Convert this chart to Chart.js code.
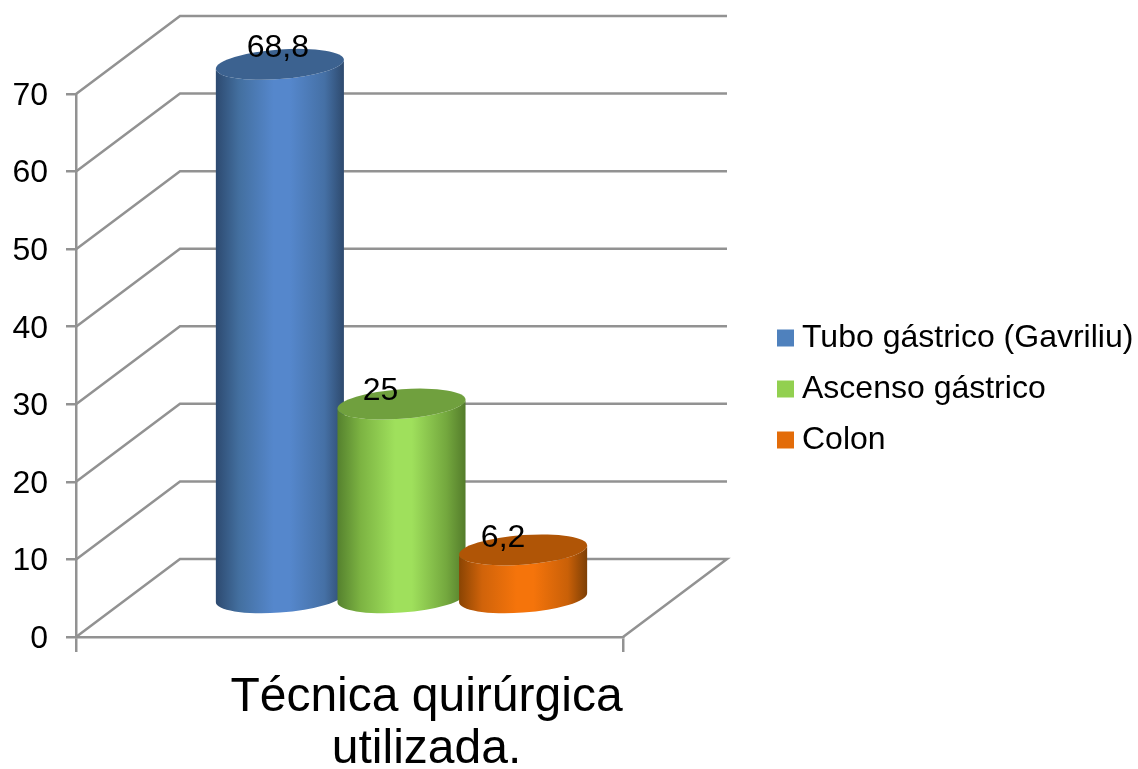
<!DOCTYPE html>
<html>
<head>
  <meta charset="utf-8">
  <title>Técnica quirúrgica utilizada</title>
  <script src="https://cdn.jsdelivr.net/npm/chart.js"></script>
  <style>
    body { margin: 0; background: white; }
    canvas { display: block; }
  </style>
</head>
<body>
<canvas id="tecnicaChart" width="1138" height="769"></canvas>

<script>
const categories = [['Técnica quirúrgica', 'utilizada.']];
const seriesNames = ['Tubo gástrico (Gavriliu)', 'Ascenso gástrico', 'Colon'];
const seriesValues = [68.8, 25, 6.2];
const yTicks = [0, 10, 20, 30, 40, 50, 60, 70];

const legendColors = ['#4f81bd', '#92d050', '#e36c09'];
const capColors = ['#3c6290', '#70a03e', '#b05506'];
const sideStops = [
  ['#2d4a70', '#436f9f', '#5587cc', '#5587cc', '#4570a5', '#2e4a6e'],
  ['#55812e', '#7cb342', '#9fe05c', '#9fe05c', '#74a83e', '#547c2b'],
  ['#8a4403', '#d0630a', '#f5740b', '#f5740b', '#c96008', '#7d3f05']
];
const stopAt = [0, 0.18, 0.45, 0.58, 0.85, 1];

const gridColor = '#929292';
const fontFamily = 'Liberation Sans, Arial, sans-serif';
const wallDepth = { x: 104, y: 78 };
const tilt = { shear: -4.5, minor: 14.8 };
// data labels sit a little off the centre of each cap
const labelShift = [[-2, -16], [-21, -13], [-20, -12]];

function ellipsePath(ctx, cx, cy, a, start, end, ccw) {
  ctx.save();
  ctx.transform(a, tilt.shear, 0, tilt.minor, cx, cy);
  ctx.arc(0, 0, 1, start, end, ccw);
  ctx.restore();
}

const scene3d = {
  id: 'scene3d',
  afterLayout(chart) {
    // legend lives to the right of the floor, outside the plot
    const legend = chart.legend;
    legend.left = 766;
    legend.right = 1138;
    legend.top = 303;
    legend.bottom = 484;
  },
  beforeDatasetsDraw(chart) {
    const ctx = chart.ctx;
    const x = chart.scales.x;
    const y = chart.scales.y;
    const dx = wallDepth.x;
    const dy = wallDepth.y;

    // side wall, back wall and floor
    ctx.save();
    ctx.strokeStyle = gridColor;
    ctx.lineWidth = 2.5;
    ctx.lineJoin = 'miter';
    yTicks.forEach(t => {
      const py = y.getPixelForValue(t);
      ctx.beginPath();
      ctx.moveTo(x.left, py);
      ctx.lineTo(x.left + dx, py - dy);
      ctx.lineTo(x.right + dx, py - dy);
      if (t === 0) ctx.lineTo(x.right, py);
      ctx.stroke();
    });
    ctx.restore();

    // cylinders, first series at the back of the pile
    seriesValues.forEach((v, i) => {
      const bar = chart.getDatasetMeta(i).data[0];
      const a = bar.width / 2;
      const cx = bar.x + dx / 2;
      const topY = bar.y - dy / 2;
      const baseY = bar.base - dy / 2 + 1;

      const side = ctx.createLinearGradient(cx - a, 0, cx + a, 0);
      stopAt.forEach((s, k) => side.addColorStop(s, sideStops[i][k]));
      ctx.fillStyle = side;
      ctx.beginPath();
      ellipsePath(ctx, cx, baseY, a, Math.PI, 0, true);
      ellipsePath(ctx, cx, topY, a, 0, Math.PI, false);
      ctx.closePath();
      ctx.fill();

      ctx.fillStyle = capColors[i];
      ctx.beginPath();
      ellipsePath(ctx, cx, topY, a, 0, Math.PI * 2, false);
      ctx.fill();
    });

    // value labels go on top of every cylinder
    ctx.save();
    ctx.fillStyle = 'black';
    ctx.font = '32px ' + fontFamily;
    ctx.textAlign = 'center';
    ctx.textBaseline = 'middle';
    seriesValues.forEach((v, i) => {
      const bar = chart.getDatasetMeta(i).data[0];
      ctx.fillText(String(v).replace('.', ','),
        bar.x + dx / 2 + labelShift[i][0],
        bar.y - dy / 2 + labelShift[i][1]);
    });
    ctx.restore();

    return false;
  }
};

new Chart(document.getElementById('tecnicaChart'), {
  type: 'bar',
  data: {
    labels: categories,
    datasets: seriesNames.map((name, i) => ({
      label: name,
      data: [seriesValues[i]],
      backgroundColor: legendColors[i],
      borderWidth: 0,
      barPercentage: 1.053,
      categoryPercentage: 0.667
    }))
  },
  options: {
    responsive: false,
    animation: false,
    layout: { padding: { top: 94, right: 515, left: 0, bottom: 0 } },
    plugins: {
      tooltip: { enabled: false },
      legend: {
        position: 'chartArea',
        align: 'start',
        labels: {
          color: 'black',
          font: { size: 32, family: fontFamily },
          usePointStyle: true,
          pointStyle: 'rect',
          boxWidth: 1,
          boxHeight: 17,
          padding: 19
        }
      }
    },
    scales: {
      x: {
        afterFit(scale) { scale.height = 132; },
        grid: { drawOnChartArea: false, drawTicks: true, tickLength: 15, color: gridColor, lineWidth: 2.5 },
        border: { color: gridColor, width: 2.5 },
        ticks: {
          color: 'black',
          maxRotation: 0,
          labelOffset: 77,
          padding: 19,
          font: { size: 48, family: fontFamily, lineHeight: 1.1 }
        }
      },
      y: {
        min: 0,
        max: 70,
        afterFit(scale) { scale.width = 76; },
        grid: { drawOnChartArea: false, drawTicks: true, tickLength: 10, color: gridColor, lineWidth: 2.5 },
        border: { color: gridColor, width: 2.5 },
        ticks: {
          color: 'black',
          stepSize: 10,
          padding: 18,
          labelOffset: 2,
          font: { size: 32, family: fontFamily }
        }
      }
    }
  },
  plugins: [scene3d]
});
</script>
</body>
</html>
